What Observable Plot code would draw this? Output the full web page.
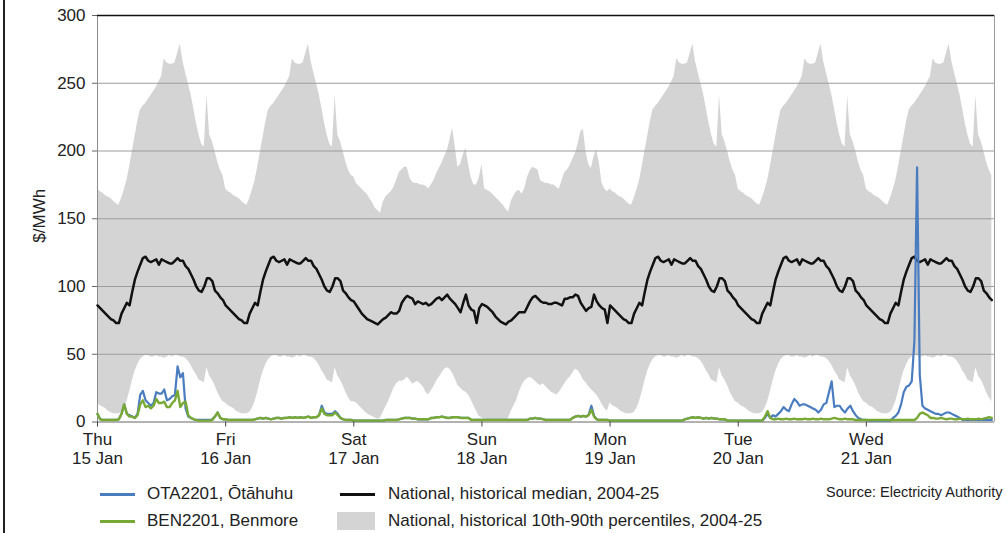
<!DOCTYPE html>
<html>
<head>
<meta charset="utf-8">
<script src="https://cdn.jsdelivr.net/npm/d3@7"></script>
<script src="https://cdn.jsdelivr.net/npm/@observablehq/plot@0.6"></script>
<style>
  body { margin: 0; background: #fff; font-family: "Liberation Sans", Arial, sans-serif; }
  #wrap { position: relative; width: 1005px; height: 533px; overflow: hidden; background: #fff; }
  #chart { position: absolute; left: 0; top: 0; }
  .sw { position: absolute; }
  .lt { position: absolute; font-size: 17px; line-height: 20px; color: #222; white-space: nowrap; }
  .src { position: absolute; font-size: 14.5px; line-height: 18px; color: #222; white-space: nowrap; }
  .border { position: absolute; left: 3px; top: 0; width: 2px; height: 533px; background: #222; z-index: 5; }
</style>
</head>
<body>
<div id="wrap">
  <div id="chart"></div>
  <div id="legend"></div>
  <div class="border"></div>
</div>
<script>
// ---- categories / tick labels ----
const dayNames = ["Thu", "Fri", "Sat", "Sun", "Mon", "Tue", "Wed"];
const dayDates = ["15 Jan", "16 Jan", "17 Jan", "18 Jan", "19 Jan", "20 Jan", "21 Jan"];
const dayType  = ["weekday", "weekday", "saturday", "sunday", "weekday", "weekday", "weekday"];
const yTicks = [0, 50, 100, 150, 200, 250, 300];

// ---- national historical profiles, half-hourly ($/MWh) ----
const weekdayP90 = [172,170,169,167,166,165,163,161,160,165,171,178,188,199,210,221,230,233,235,238,241,244,247,251,255,268,265,264,264,265,272,279,266,258,250,242,232,221,212,205,203,241,212,207,200,192,186,182];
const weekdayP10 = [14,12,11,10,8,7,6,6,6,7,10,15,22,30,37,42,46,48,49,49,48,48,49,48,48,47,48,49,48,49,49,48,48,47,45,42,38,35,31,30,29,40,34,31,27,22,18,15];
const weekdayMedian = [86,84,82,80,78,76,75,73,73,80,84,88,86,96,105,111,116,121,122,119,118,119,120,116,120,119,118,117,117,119,121,119,119,115,113,109,105,100,97,96,100,106,106,104,97,95,92,90];

const saturdayP90 = [181,176,174,172,170,168,165,162,158,156,154,162,166,168,170,173,178,184,186,188,188,180,177,176,176,175,175,174,172,175,178,183,187,191,196,200,208,217,203,188,190,197,202,190,180,175,175,180];
const saturdayP10 = [15,14,12,10,8,6,5,4,3,2,3,7,11,15,20,25,28,30,30,31,33,31,28,29,30,28,26,22,20,23,26,30,33,36,39,40,39,36,32,27,25,23,22,20,16,12,8,4];
const saturdayMedian = [89,86,83,80,78,76,75,74,73,72,74,76,77,79,81,80,80,82,88,91,93,92,91,87,89,88,87,88,86,87,89,91,92,90,92,94,91,89,87,84,81,88,94,86,83,82,73,84];

const sundayP90 = [190,172,171,170,168,166,164,162,160,157,155,163,167,170,171,168,172,180,185,188,187,186,178,177,176,176,175,175,173,172,178,184,186,189,194,198,205,214,216,199,190,187,196,201,191,176,172,170];
const sundayP10 = [3,2,2,1,1,1,1,1,1,1,3,8,12,16,22,27,30,32,33,32,30,28,27,28,26,24,22,21,20,22,25,28,31,33,36,39,38,35,31,29,26,24,22,20,17,13,10,8];
const sundayMedian = [87,86,85,83,81,78,76,74,73,72,74,75,77,79,81,81,81,85,89,92,93,91,89,88,88,87,87,88,88,87,86,91,91,92,92,94,93,88,85,82,84,85,94,89,86,84,83,73];

// ---- nodal prices, half-hourly per day ($/MWh) ----
const otaThu = [6,2,1.5,1.5,1.5,1.5,1.5,1.5,2,6,13,6,5,4,3,6,20,23,16,14,12,14,22,21,21,24,16,17,19,20,41,33,36,10,4,3,2,1.5,1.5,1.5,1.5,1.5,1.5,2,4,7,3,2];
const otaFri = [2,1.5,1.5,1.5,1.5,1.5,1.5,1.5,1.5,1.5,1.5,2,2.5,3,2.5,3,2.5,2,2.5,3,3,2.5,3,3,3.5,3,3.5,3,3.5,3,3.5,4,3,3.5,3.5,5,12,7,6,6,6,8,6,3,2,1.5,1.5,1.5];
const otaSat = [1,1,1,1,1,1,1,1,1,1,1,1,1.5,1.5,1.5,1.5,1.5,2,2.5,3,3,3,2.5,2.5,2,2,2,2,2,3,3,3.5,3.5,4,3.5,3,3,3.5,3.5,3.5,3,3,3,3,1.5,1.5,1.5,1.5];
const otaSun = [1.5,1.5,1.5,1.5,1.5,1.5,1.5,1.5,1.5,1.5,1.5,1.5,1.5,1.5,1.5,1.5,1.5,1.5,2.5,2.5,3,2.5,2.5,2,1.5,1.5,1.5,1.5,1.5,1.5,1.5,1.5,1.5,1.5,3,4,4.5,4,4.5,4,5.5,12,4.5,2,1.5,1.5,1.5,1.5];
const otaMon = [1,1,1,1,1,1,1,1,1,1,1,1,1,1,1,1,1,1,1,1,1,1,1,1,1,1,1,1,2,2.5,3,3.5,3,3.5,3,2.5,3,2.5,3,2.5,2.5,2,2,2,1,1,1,1];
const otaTue = [1,1,1,1,1,1,1,1,1,1,3,6,3,5,4,6,8,11,9,8,13,17,15,12,13,13,12,11,10,9,7,9,13,14,22,30,11,12,12,9,7,10,12,8,5,3,2,1.5];
const otaWed = [1.5,1,1,1,1,1,1,1,1,1,3,4.5,7,13,22,26,27,30,60,188,35,12,10,9,8,7,6,6,5,6,7,7,6,5,4,3,1.5,1.5,1.5,1.5,1.5,1.5,1.5,1.5,1.5,1.5,1.5,1.5];

const benThu = [6,2,1.5,1.5,1.5,1.5,1.5,1.5,2,6,13,6,4,4,3,5,13,16,11,12,10,12,17,14,14,15,11,11,14,16,23,11,14,15,5,3,2,1.5,1,1,1,1,1,1.5,4,7,3,2];
const benFri = [2,1.5,1.5,1.5,1.5,1.5,1.5,1.5,1.5,1.5,1.5,2,2.5,3,2.5,3,2.5,2,2.5,3,3,2.5,3,3,3.5,3,3.5,3,3.5,3,3.5,4,3,3.5,3.5,5,10,6,5,5,5,7,5,3,2,1.5,1.5,1.5];
const benSat = [1,1,1,1,1,1,1,1,1,1,1,1,1.5,1.5,1.5,1.5,1.5,2,2.5,3,3,3,2.5,2.5,2,2,2,2,2,3,3,3.5,3.5,4,3.5,3,3,3.5,3.5,3.5,3,3,3,3,1.5,1.5,1.5,1.5];
const benSun = [1.5,1.5,1.5,1.5,1.5,1.5,1.5,1.5,1.5,1.5,1.5,1.5,1.5,1.5,1.5,1.5,1.5,1.5,2.5,2.5,3,2.5,2.5,2,1.5,1.5,1.5,1.5,1.5,1.5,1.5,1.5,1.5,1.5,3,4,4.5,4,4.5,4,5,9,4,2,1.5,1.5,1.5,1.5];
const benMon = [1,1,1,1,1,1,1,1,1,1,1,1,1,1,1,1,1,1,1,1,1,1,1,1,1,1,1,1,2,2.5,3,3.5,3,3.5,3,2.5,3,2.5,3,2.5,2.5,2,2,2,1,1,1,1];
const benTue = [1,1,1,1,1,1,1,1,1,1,4,8,3,2,2,2.5,2,2,2.5,2,2,2.5,2,2,2,2.5,2,2,2.5,2,2,2.5,2,2,2,2.5,3,2.5,2,2,2.5,2,2,2,1.5,1.5,1.5,1.5];
const benWed = [1.5,1.5,1.5,1.5,1.5,1.5,1.5,1.5,1.5,1.5,1.5,1.5,1.5,1.5,1.5,1.5,1.5,1.5,1.5,3,6,7,6,5,3,3,2.5,2.5,3,2.5,2,2.5,2.5,2,2,2.5,2,2,2.5,2,2,2,2.5,2,2.5,3,3.5,3];

// ---- build tables ----
const p90ByType = {weekday: weekdayP90, saturday: saturdayP90, sunday: sundayP90};
const p10ByType = {weekday: weekdayP10, saturday: saturdayP10, sunday: sundayP10};
const medByType = {weekday: weekdayMedian, saturday: saturdayMedian, sunday: sundayMedian};
const otaDays = [otaThu, otaFri, otaSat, otaSun, otaMon, otaTue, otaWed];
const benDays = [benThu, benFri, benSat, benSun, benMon, benTue, benWed];

const rows = [];
dayNames.forEach((name, d) => {
  const type = dayType[d];
  for (let i = 0; i < 48; i++) {
    rows.push({
      t: d + i / 48,
      hi: p90ByType[type][i],
      lo: p10ByType[type][i],
      med: medByType[type][i],
      ota: otaDays[d][i],
      ben: benDays[d][i]
    });
  }
});

const font = "Liberation Sans, Arial, sans-serif";
const chart = Plot.plot({
  width: 1005,
  height: 470,
  marginTop: 15,
  marginBottom: 48.5,
  marginLeft: 97,
  marginRight: 11,
  x: {domain: [0, 7]},
  y: {domain: [0, 300]},
  style: {fontFamily: font, fontSize: "17px", color: "#222", background: "transparent", overflow: "visible"},
  marks: [
    Plot.areaY(rows, {x: "t", y1: "lo", y2: "hi", fill: "#d4d4d4"}),
    Plot.ruleY([50, 100, 150, 200, 250], {stroke: "#9c9c9c", strokeWidth: 1}),
    Plot.ruleX([0], {stroke: "#8c8c8c", strokeWidth: 1}),
    Plot.ruleX([7], {stroke: "#9c9c9c", strokeWidth: 1}),
    Plot.ruleY([300], {stroke: "#111", strokeWidth: 1.5}),
    Plot.ruleY([0], {stroke: "#666", strokeWidth: 1}),
    Plot.line(rows, {x: "t", y: "med", stroke: "#111", strokeWidth: 2.5}),
    Plot.line(rows, {x: "t", y: "ota", stroke: "#4a7cc0", strokeWidth: 2.2}),
    Plot.line(rows, {x: "t", y: "ben", stroke: "#78a935", strokeWidth: 2.4}),
    Plot.axisY({ticks: yTicks, tickSize: 5, tickPadding: 7, label: null, fontSize: 17, stroke: "#666"}),
    Plot.axisX({ticks: [0, 1, 2, 3, 4, 5, 6], tickFormat: d => dayNames[d] + "\n" + dayDates[d],
      tickSize: 5, tickPadding: 4, label: null, fontSize: 17, lineHeight: 1.15, stroke: "#444"}),
    Plot.text(["$/MWh"], {frameAnchor: "left", dx: -58, dy: -3, rotate: -90, textAnchor: "middle", fontSize: 17, fill: "#222"})
  ]
});
document.getElementById("chart").appendChild(chart);

// ---- legend (HTML, below the SVG) ----
const legendItems = [
  {kind: "line", color: "#4a7cc0", x: 100, y: 494, label: "OTA2201, Ōtāhuhu", tx: 147},
  {kind: "line", color: "#111", x: 340, y: 494, label: "National, historical median, 2004-25", tx: 388},
  {kind: "line", color: "#78a935", x: 100, y: 521, label: "BEN2201, Benmore", tx: 147},
  {kind: "box", color: "#d4d4d4", x: 337, y: 521, label: "National, historical 10th-90th percentiles, 2004-25", tx: 388}
];
const leg = document.getElementById("legend");
legendItems.forEach(it => {
  const sw = document.createElement("div");
  sw.className = "sw";
  if (it.kind === "line") {
    Object.assign(sw.style, {left: it.x + "px", top: (it.y - 1.5) + "px", width: "35px", height: "3px", background: it.color});
  } else {
    Object.assign(sw.style, {left: it.x + "px", top: (it.y - 9) + "px", width: "38px", height: "18px", background: it.color});
  }
  leg.appendChild(sw);
  const t = document.createElement("div");
  t.className = "lt";
  t.textContent = it.label;
  Object.assign(t.style, {left: it.tx + "px", top: (it.y - 10) + "px"});
  leg.appendChild(t);
});
const src = document.createElement("div");
src.className = "src";
src.textContent = "Source: Electricity Authority";
Object.assign(src.style, {left: "826px", top: "483px"});
leg.appendChild(src);
</script>
</body>
</html>
